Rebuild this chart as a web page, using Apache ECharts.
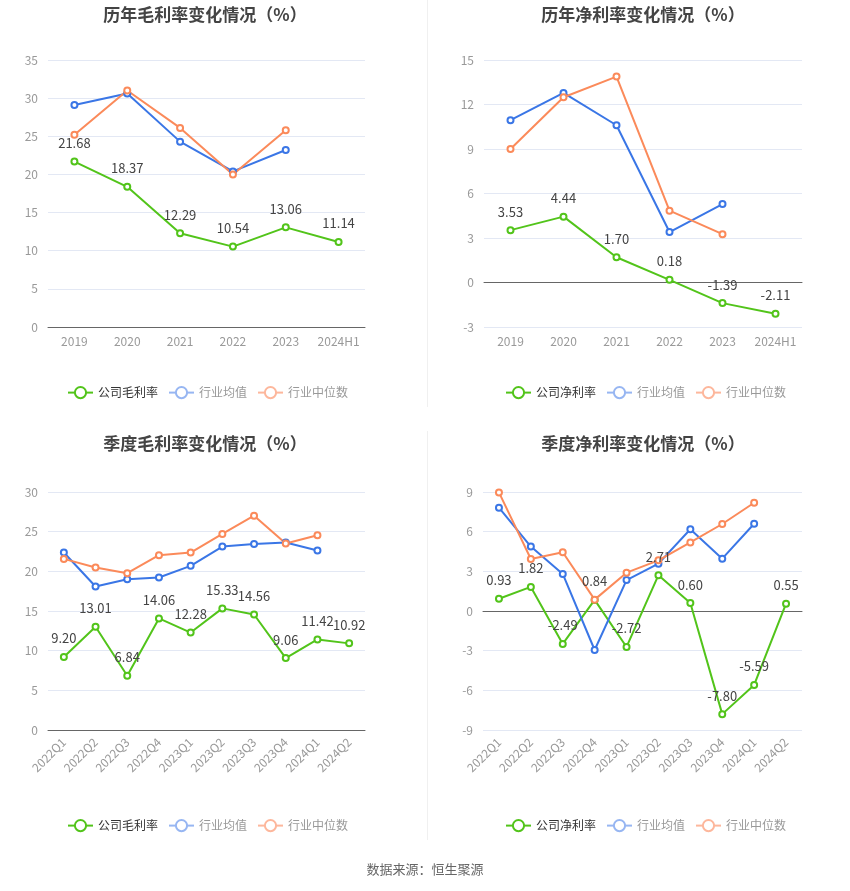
<!DOCTYPE html>
<html>
<head>
<meta charset="utf-8">
<script src="https://cdn.jsdelivr.net/npm/echarts@6/dist/echarts.min.js"></script>
<style>html,body{margin:0;padding:0;background:#fff}#c{width:850px;height:891px}</style>
</head>
<body>
<div id="c"></div>
<script>
const yearCats = ['2019','2020','2021','2022','2023','2024H1'];
const quarterCats = ['2022Q1','2022Q2','2022Q3','2022Q4','2023Q1','2023Q2','2023Q3','2023Q4','2024Q1','2024Q2'];

const annualGross = [21.68, 18.37, 12.29, 10.54, 13.06, 11.14];
const annualGrossAvg = [29.1, 30.6, 24.3, 20.4, 23.2];
const annualGrossMed = [25.2, 31.0, 26.1, 20.0, 25.8];

const annualNet = [3.53, 4.44, 1.70, 0.18, -1.39, -2.11];
const annualNetAvg = [10.94, 12.78, 10.6, 3.40, 5.29];
const annualNetMed = [9.0, 12.49, 13.88, 4.84, 3.26];

const qGross = [9.20, 13.01, 6.84, 14.06, 12.28, 15.33, 14.56, 9.06, 11.42, 10.92];
const qGrossAvg = [22.37, 18.09, 19.0, 19.22, 20.69, 23.12, 23.46, 23.63, 22.62];
const qGrossMed = [21.57, 20.48, 19.76, 22.03, 22.37, 24.72, 27.02, 23.5, 24.55];

const qNet = [0.93, 1.82, -2.49, 0.84, -2.72, 2.71, 0.60, -7.80, -5.59, 0.55];
const qNetAvg = [7.81, 4.87, 2.80, -2.95, 2.34, 3.58, 6.18, 3.96, 6.6];
const qNetMed = [8.97, 3.93, 4.44, 0.86, 2.9, 3.83, 5.19, 6.58, 8.19];

const titles = ['历年毛利率变化情况（%）','历年净利率变化情况（%）','季度毛利率变化情况（%）','季度净利率变化情况（%）'];
const yTicks = [
  {min:0, max:35, interval:5},
  {min:-3, max:15, interval:3},
  {min:0, max:30, interval:5},
  {min:-9, max:9, interval:3}
];

const GREEN = '#52c41a', BLUE = '#3a76e6', ORANGE = '#fb8a5a';
const FONT = 'Noto Sans CJK SC';

const grids = [
  {left:48, top:60, width:317, height:267},
  {left:484, top:60, width:318, height:267},
  {left:48, top:492, width:317, height:238},
  {left:483, top:492, width:319, height:238}
];

const titleCfg = [
  {left:200, top:1},
  {left:638, top:1},
  {left:200, top:430},
  {left:638, top:430}
];

const legendTops = [381, 381, 814, 814];
const legendLefts = [62, 500, 62, 500];

const seriesSets = [
  [annualGross, annualGrossAvg, annualGrossMed, '公司毛利率'],
  [annualNet, annualNetAvg, annualNetMed, '公司净利率'],
  [qGross, qGrossAvg, qGrossMed, '公司毛利率'],
  [qNet, qNetAvg, qNetMed, '公司净利率']
];

const option = {
  backgroundColor:'#fff',
  animation:false,
  textStyle:{fontFamily:FONT},
  title:[], legend:[], grid:[], xAxis:[], yAxis:[], series:[],
  graphic:[
    {type:'line', shape:{x1:427.5,y1:0,x2:427.5,y2:407}, style:{stroke:'#f0f0f0', lineWidth:1}},
    {type:'line', shape:{x1:427.5,y1:431,x2:427.5,y2:840}, style:{stroke:'#f0f0f0', lineWidth:1}},
    {type:'text', left:'center', top:863, style:{text:'数据来源：恒生聚源', fill:'#666', fontSize:13, fontFamily:FONT}}
  ]
};

for (let i = 0; i < 4; i++) {
  const quarterly = i >= 2;
  option.title.push({
    text: titles[i],
    left: titleCfg[i].left, top: titleCfg[i].top,
    textAlign:'center',
    textStyle:{fontSize:17, fontWeight:'bold', color:'#444', fontFamily:FONT}
  });
  option.grid.push(grids[i]);
  option.xAxis.push({
    type:'category', gridIndex:i, data: quarterly ? quarterCats : yearCats,
    boundaryGap:true,
    axisLine:{onZero:true, lineStyle:{color:'#666'}},
    axisTick:{alignWithLabel:true, interval:0, length:5, lineStyle:{color:'#666'}},
    axisLabel:{interval:0, color:'#999', fontSize:12, rotate: quarterly ? 45 : 0, margin: quarterly ? 10 : 8, fontFamily:FONT}
  });
  option.yAxis.push({
    type:'value', gridIndex:i,
    min:yTicks[i].min, max:yTicks[i].max, interval:yTicks[i].interval,
    axisLine:{show:false}, axisTick:{show:false},
    axisLabel:{color:'#999', fontSize:12, margin:10, fontFamily:FONT},
    splitLine:{lineStyle:{color:'#e3e8f4'}}
  });
  const s = seriesSets[i];
  const base = {type:'line', xAxisIndex:i, yAxisIndex:i, symbol:'emptyCircle', symbolSize:6, lineStyle:{width:2}};
  option.series.push(Object.assign({}, base, {
    name:s[3], data:s[0], itemStyle:{color:GREEN}, lineStyle:{width:2, color:GREEN}, z:3,
    label:{show:true, position:'top', color:'#444', fontSize:13, distance:8, fontFamily:FONT,
      formatter:p=>Number(p.value).toFixed(2)}
  }));
  option.series.push(Object.assign({}, base, {
    name:'行业均值', data:s[1], itemStyle:{color:BLUE}, lineStyle:{width:2, color:BLUE}
  }));
  option.series.push(Object.assign({}, base, {
    name:'行业中位数', data:s[2], itemStyle:{color:ORANGE}, lineStyle:{width:2, color:ORANGE}
  }));
  option.legend.push({
    left: legendLefts[i], top: legendTops[i],
    width: 320,
    itemWidth:25, itemHeight:14, itemGap:10,
    textStyle:{fontSize:12, color:'#333', fontFamily:FONT},
    data:[
      {name:s[3]},
      {name:'行业均值', itemStyle:{color:'#97b6f2', borderColor:'#97b6f2'}, lineStyle:{color:'#97b6f2'}, textStyle:{color:'#999'}},
      {name:'行业中位数', itemStyle:{color:'#fdb79c', borderColor:'#fdb79c'}, lineStyle:{color:'#fdb79c'}, textStyle:{color:'#999'}}
    ]
  });
}

const chart = echarts.init(document.getElementById('c'));
chart.setOption(option);
</script>
</body>
</html>
